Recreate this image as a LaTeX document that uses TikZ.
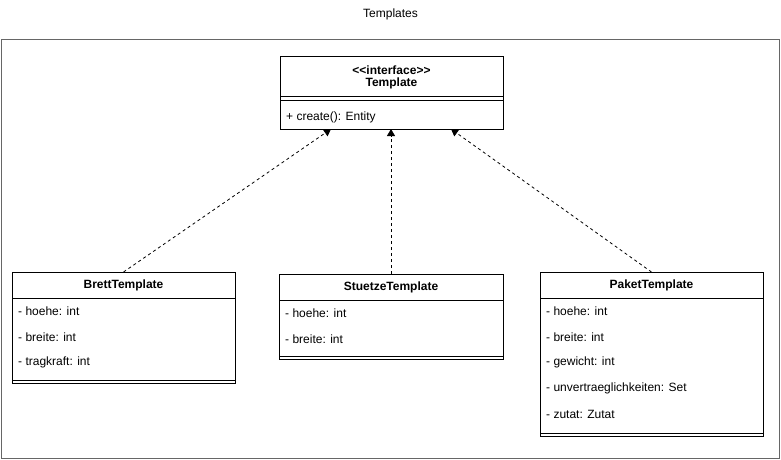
\documentclass[tikz,border=0pt]{standalone}
\usepackage{fontspec}
\setmainfont{Liberation Sans}[Ligatures=TeXOff]
\usetikzlibrary{arrows.meta,calc}
\begin{document}
\begin{tikzpicture}[x=1pt,y=-1pt,
  every node/.style={font=\fontsize{12}{14}\selectfont, inner sep=0pt},
  cls/.style={draw=black, line width=0.9pt, anchor=north west, inner sep=0pt, outer sep=0pt},
  sep/.style={draw=black, line width=0.9pt},
  attr/.style={anchor=west},
  head/.style={font=\fontsize{12}{14}\selectfont\bfseries},
  real/.style={draw=black, line width=0.8pt, dash pattern=on 3pt off 3pt, -{Triangle[length=7pt,width=8pt]}}
]
\useasboundingbox (0,0) rectangle (781,459);
\node[anchor=center] (title) at (390.5,14) {Templates};
\node[draw=black!60, line width=0.9pt, anchor=north west, minimum width=778pt, minimum height=419pt] (frame) at (1,39) {};

% Template interface
\node[cls, minimum width=223pt, minimum height=73pt] (tmpl) at (280,56) {};
\node[head] (tmplst) at (391.5,70) {<\kern0pt<interface>\kern0pt>};
\node[head] (tmplname) at (391.5,83) {Template};
\draw[sep] (280,96) -- (503,96);
\draw[sep] (280,100) -- (503,100);
\node[attr] (tm1) at (286,117) {+ create(): Entity};

% BrettTemplate
\node[cls, minimum width=223pt, minimum height=111pt] (brett) at (12,272) {};
\node[head] (brettname) at (123.5,285) {BrettTemplate};
\draw[sep] (12,298) -- (235,298);
\node[attr] (b1) at (18,311) {- hoehe: int};
\node[attr] (b2) at (18,337) {- breite: int};
\node[attr] (b3) at (18,362) {- tragkraft: int};
\draw[sep] (12,380) -- (235,380);

% StuetzeTemplate
\node[cls, minimum width=224pt, minimum height=85pt] (stuetze) at (279,274) {};
\node[head] (stuetzename) at (391,287) {StuetzeTemplate};
\draw[sep] (279,300) -- (503,300);
\node[attr] (s1) at (285,313) {- hoehe: int};
\node[attr] (s2) at (285,339) {- breite: int};
\draw[sep] (279,356) -- (503,356);

% PaketTemplate
\node[cls, minimum width=223pt, minimum height=164pt] (paket) at (540,272) {};
\node[head] (paketname) at (651.5,285) {PaketTemplate};
\draw[sep] (540,298) -- (763,298);
\node[attr] (p1) at (546,311) {- hoehe: int};
\node[attr] (p2) at (546,337) {- breite: int};
\node[attr] (p3) at (546,362) {- gewicht: int};
\node[attr] (p4) at (546,388) {- unvertraeglichkeiten: Set};
\node[attr] (p5) at (546,414) {- zutat: Zutat};
\draw[sep] (540,433) -- (763,433);

% realization arrows
\coordinate (t1) at ($(tmpl.south west)+(51,0)$);
\coordinate (t3) at ($(tmpl.south west)+(171,0)$);
\draw[real] (brett.north) -- (t1);
\draw[real] (stuetze.north) -- (stuetze.north |- tmpl.south);
\draw[real] (paket.north) -- (t3);
\end{tikzpicture}
\end{document}
